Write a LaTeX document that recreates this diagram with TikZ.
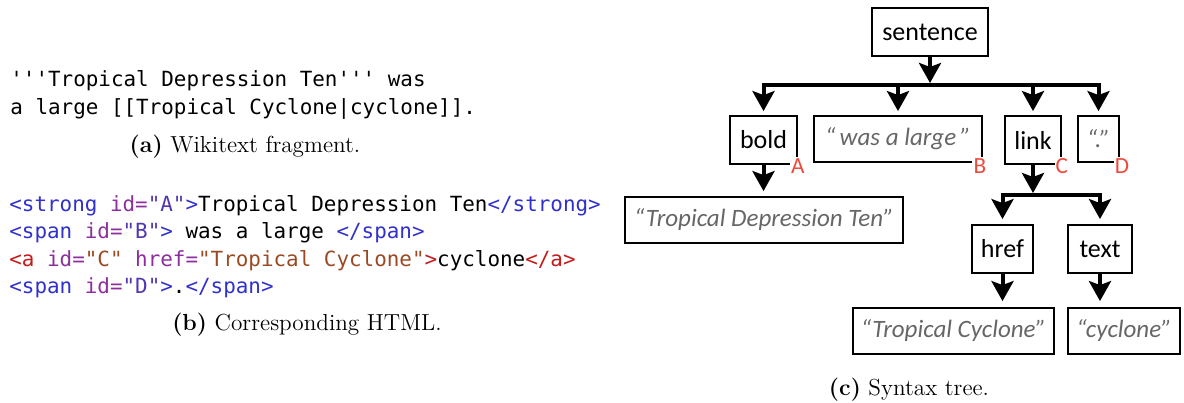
\documentclass[tikz,border=0pt]{standalone}
\usepackage{fontspec}
\setmonofont{DejaVu Sans Mono}
\newfontfamily\treefont{Carlito}
\usetikzlibrary{arrows.meta}
\definecolor{tagblue}{HTML}{3030CC}
\definecolor{attrpurple}{HTML}{8E2E9E}
\definecolor{valblue}{HTML}{5236B0}
\definecolor{tagred}{HTML}{C41A1A}
\definecolor{valbrown}{HTML}{9A4A22}
\definecolor{qgray}{HTML}{666666}
\definecolor{idred}{HTML}{EE4A3C}
\begin{document}
\begin{tikzpicture}[x=0.5pt,y=-0.5pt,
  tbox/.style={draw, line width=0.9pt, inner sep=0pt, minimum height=24pt,
    font=\treefont\fontsize{13}{15}\selectfont},
  qbox/.style={draw, line width=0.9pt, inner sep=0pt, minimum height=23pt,
    font=\treefont\itshape\fontsize{12.5}{15}\selectfont, text=qgray},
  conn/.style={line width=2pt, line cap=rect},
  arr/.style={line width=2pt, -{Stealth[length=10pt,width=11pt,inset=2pt]}},
  idlabel/.style={font=\treefont\fontsize{11.6}{13}\selectfont, text=idred, fill=white, inner sep=0.6pt},
  code/.style={font=\ttfamily\fontsize{10.45}{12}\selectfont\frenchspacing, anchor=base west, inner sep=0pt},
  capt/.style={font=\fontsize{11.6}{13}\selectfont, anchor=base, inner sep=0pt}]
\useasboundingbox (0,0) rectangle (1184,402);

% (a) Wikitext
\node[code] (w1) at (10,86) {'{}'{}'Tropical Depression Ten'{}'{}' was};
\node[code] (w2) at (10,114) {a large [[Tropical Cyclone|cyclone]].};
\node[capt] (capa) at (245,152) {\textbf{(a)} Wikitext fragment.};

% (b) HTML
\node[code] (h1) at (9,211) {\textcolor{tagblue}{<strong} \textcolor{attrpurple}{id=}\textcolor{valblue}{"A"}\textcolor{tagblue}{>}Tropical Depression Ten\textcolor{tagblue}{</strong>}};
\node[code] (h2) at (9,238) {\textcolor{tagblue}{<span} \textcolor{attrpurple}{id=}\textcolor{valblue}{"B"}\textcolor{tagblue}{>} was a large \textcolor{tagblue}{</span>}};
\node[code] (h3) at (9,266) {\textcolor{tagred}{<a} \textcolor{attrpurple}{id=}\textcolor{valbrown}{"C"} \textcolor{attrpurple}{href=}\textcolor{valbrown}{"Tropical Cyclone"}\textcolor{tagred}{>}cyclone\textcolor{tagred}{</a>}};
\node[code] (h4) at (9,293) {\textcolor{tagblue}{<span} \textcolor{attrpurple}{id=}\textcolor{valblue}{"D"}\textcolor{tagblue}{>}.\textcolor{tagblue}{</span>}};
\node[capt] (capb) at (307,330) {\textbf{(b)} Corresponding HTML.};

% (c) Syntax tree
\node[tbox, minimum width=58pt] (sentence) at (930,32) {sentence};
\node[tbox, minimum width=33.5pt] (bold) at (763.5,140) {bold};
\node[qbox, minimum width=84pt] (was) at (898,139) {“\,was a large\,”};
\node[tbox, minimum width=28pt] (link) at (1033,140) {link};
\node[qbox, minimum width=20.5pt] (dot) at (1098.5,139) {“.”};
\node[qbox, minimum width=139pt] (tdt) at (764,220) {“Tropical Depression Ten”};
\node[tbox, minimum width=30.5pt] (href) at (1002.5,249) {href};
\node[tbox, minimum width=32pt] (text) at (1100,249) {text};
\node[qbox, minimum width=100.5pt] (tc) at (953.5,331) {“Tropical Cyclone”};
\node[qbox, minimum width=56pt] (cyc) at (1124,331) {“cyclone”};

\coordinate (bar1) at (930,85);
\coordinate (bar2) at (1033,195);

\draw[conn] (bold.north |- bar1) -- (dot.north |- bar1);
\draw[arr, shorten >=1pt] (sentence.south) -- (bar1);
\draw[arr, shorten >=2pt] (bold.north |- bar1) -- (bold.north);
\draw[arr, shorten >=2pt] (was.north |- bar1) -- (was.north);
\draw[arr, shorten >=2pt] (link.north |- bar1) -- (link.north);
\draw[arr, shorten >=2pt] (dot.north |- bar1) -- (dot.north);

\draw[arr, shorten >=2.5pt] (bold.south) -- (bold.south |- tdt.north);

\draw[conn] (href.north |- bar2) -- (text.north |- bar2);
\draw[arr, shorten >=1pt] (link.south) -- (bar2);
\draw[arr, shorten >=2.5pt] (href.north |- bar2) -- (href.north);
\draw[arr, shorten >=2.5pt] (text.north |- bar2) -- (text.north);
\draw[arr, shorten >=3pt] (href.south) -- (href.south |- tc.north);
\draw[arr, shorten >=3pt] (text.south) -- (text.south |- cyc.north);

\node[idlabel] (lA) at ([yshift=-0.5pt]bold.south east) {A};
\node[idlabel] (lB) at ([xshift=-1.5pt,yshift=-1.5pt]was.south east) {B};
\node[idlabel] (lC) at ([yshift=-0.5pt]link.south east) {C};
\node[idlabel] (lD) at ([xshift=1pt,yshift=-1.5pt]dot.south east) {D};

\node[capt] (capc) at (909,395) {\textbf{(c)} Syntax tree.};
\end{tikzpicture}
\end{document}
